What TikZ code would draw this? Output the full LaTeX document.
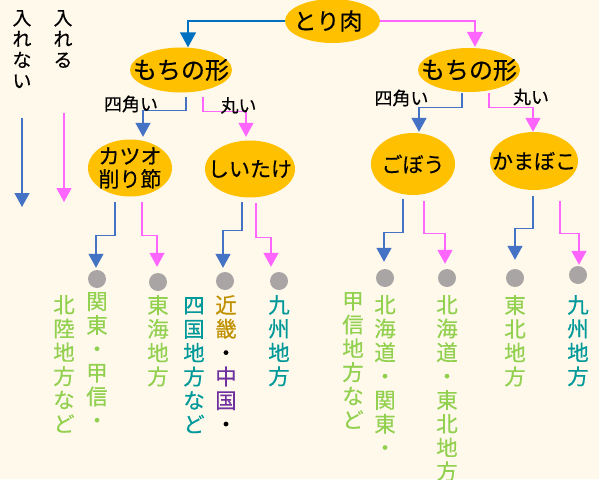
\documentclass[tikz,border=0pt]{standalone}
\usepackage{fontspec}
\setmainfont{Noto Sans CJK JP}[FakeBold=0.35]
\usetikzlibrary{shapes.geometric,arrows.meta,calc}
\definecolor{bg}{HTML}{FFF9EC}
\definecolor{ell}{HTML}{FFC000}
\definecolor{blueT}{HTML}{0070C0}
\definecolor{blueL}{HTML}{4472C4}
\definecolor{pinkL}{HTML}{FF66FF}
\definecolor{dotgrey}{HTML}{A9A5A5}
\definecolor{greenT}{HTML}{92D050}
\definecolor{tealT}{HTML}{009999}
\definecolor{goldT}{HTML}{BF9000}
\definecolor{purpleT}{HTML}{7030A0}
\tikzset{
  blob/.style={ellipse, fill=ell, inner sep=0pt},
  btxt/.style={inner sep=0pt, align=center, text=black},
  lbl/.style={inner sep=0pt, text=black, font=\fontsize{18}{20}\selectfont},
  tip/.style={-{Triangle[width=15pt,length=14pt]}},
  conB/.style={draw=blueL, line width=1.4pt, tip},
  conP/.style={draw=pinkL, line width=1.4pt, tip},
  dotc/.style={circle, fill=dotgrey, minimum size=18pt, inner sep=0pt},
  vtxt/.style={anchor=north, inner sep=0pt, align=center, font=\fontsize{21.5}{23.8}\selectfont},
  legtxt/.style={anchor=north, inner sep=0pt, align=center, text=black, font=\fontsize{19}{21}\selectfont},
}
\begin{document}
\begin{tikzpicture}[x=1pt,y=-1pt]
\fill[bg] (0,0) rectangle (599,479);
\useasboundingbox (0,0) rectangle (599,479);

% legend
\node[legtxt] (legno) at (22,10) {入\\れ\\な\\い};
\node[legtxt] (legyes) at (63,10) {入\\れ\\る};
\coordinate (lbA) at (22,118);
\coordinate (lbB) at (22,207);
\coordinate (lpA) at (64,113);
\coordinate (lpB) at (64,202);
\draw[conB] (lbA) -- (lbB);
\draw[conP] (lpA) -- (lpB);

% ellipses
\node[blob, minimum width=95pt, minimum height=44pt] (tori) at (332.5,21) {};
\node[btxt, font=\fontsize{23}{25}\selectfont] (toriT) at (328,21) {とり肉};
\node[blob, minimum width=102pt, minimum height=45pt] (mochiL) at (181,70) {};
\node[btxt, font=\fontsize{24}{26}\selectfont] (mochiLT) at (mochiL) {もちの形};
\node[blob, minimum width=102pt, minimum height=44pt] (mochiR) at (469,70) {};
\node[btxt, font=\fontsize{24}{26}\selectfont] (mochiRT) at (mochiR) {もちの形};
\node[blob, minimum width=84pt, minimum height=57pt] (katsuo) at (130,168) {};
\node[btxt, font=\fontsize{21}{23}\selectfont] (katsuoT) at (katsuo) {カツオ\\削り節};
\node[blob, minimum width=90pt, minimum height=57pt] (shiitake) at (250,169) {};
\node[btxt, font=\fontsize{21}{23}\selectfont] (shiitakeT) at (shiitake) {しいたけ};
\node[blob, minimum width=84pt, minimum height=62pt] (gobou) at (413,164) {};
\node[btxt, font=\fontsize{21}{23}\selectfont] (gobouT) at (gobou) {ごぼう};
\node[blob, minimum width=88pt, minimum height=58pt] (kama) at (534,161) {};
\node[btxt, font=\fontsize{21}{23}\selectfont] (kamaT) at (kama) {かまぼこ};

% dots
\node[dotc] (d1) at (97,279) {};
\node[dotc] (d2) at (158,282) {};
\node[dotc] (d3) at (225,281) {};
\node[dotc] (d4) at (279,281) {};
\node[dotc] (d5) at (385,278) {};
\node[dotc] (d6) at (447,278) {};
\node[dotc] (d7) at (515,278) {};
\node[dotc] (d8) at (578,275) {};

% top connectors
\draw[draw=blueT, line width=1.4pt, -{Triangle[width=16pt,length=15pt]}] (tori.west) -| ($(mochiL.north)+(7,0)$);
\draw[draw=pinkL, line width=1.4pt, -{Triangle[width=16pt,length=15pt]}] (tori.east) -| ($(mochiR.north)+(6,-1)$);

% second level
\draw[conB] ($(mochiL.south)+(5,4.5)$) -- ++(0,13) -| ($(katsuo.north)+(13,-2.5)$);
\draw[conP] ($(mochiL.south)+(22,4.5)$) -- ++(0,14) -| ($(shiitake.north)+(-4,-3.5)$);
\draw[conB] ($(mochiR.south)+(-7,1)$) -- ++(0,14) -| ($(gobou.north)+(6,-1)$);
\draw[conP] ($(mochiR.south)+(20,1)$) -- ++(0,14) -| ($(kama.north)+(-1,0)$);

\node[lbl] (sq1) at (131,104) {四角い};
\node[lbl] (mr1) at (238.5,105.5) {丸い};
\node[lbl] (sq2) at (401.5,98) {四角い};
\node[lbl] (mr2) at (531,97) {丸い};

% third level
\draw[conB] ($(katsuo.south)+(-15,5.5)$) -- ++(0,33) -| ($(d1.north)+(-1,-2)$);
\draw[conP] ($(katsuo.south)+(12,5.5)$) -- ++(0,33) -| ($(d2.north)+(-1,-6)$);
\draw[conB] ($(shiitake.south)+(-8,4.5)$) -- ++(0,28) -| ($(d3.north)+(-2,-4)$);
\draw[conP] ($(shiitake.south)+(6,5.5)$) -- ++(0,34) -| ($(d4.north)+(-8,-5)$);
\draw[conB] ($(gobou.south)+(-10,4)$) -- ++(0,33) -| ($(d5.north)+(-1,-7)$);
\draw[conP] ($(gobou.south)+(11,6)$) -- ++(0,32) -| ($(d6.north)+(-2,-5)$);
\draw[conB] ($(kama.south)+(-1,6)$) -- ++(0,32) -| ($(d7.north)+(0,-9)$);
\draw[conP] ($(kama.south)+(26,11)$) -- ++(0,32) -| ($(d8.north)+(1,-1)$);

% region texts
\node[vtxt, text=greenT] (t1) at (97,292) {関\\東\\・\\甲\\信\\・};
\node[vtxt, text=greenT] (t1b) at (64,295) {北\\陸\\地\\方\\な\\ど};
\node[vtxt, text=greenT] (t2) at (158,295) {東\\海\\地\\方};
\node[vtxt, text=tealT] (t3b) at (194,297) {四\\国\\地\\方\\な\\ど};
\node[vtxt] (t3) at (226,295) {\textcolor{goldT}{近}\\\textcolor{goldT}{畿}\\\textcolor{black}{・}\\\textcolor{purpleT}{中}\\\textcolor{purpleT}{国}\\\textcolor{black}{・}};
\node[vtxt, text=tealT] (t4) at (279,295) {九\\州\\地\\方};
\node[vtxt, text=greenT] (t5) at (385,295) {北\\海\\道\\・\\関\\東\\・};
\node[vtxt, text=greenT] (t5b) at (353,292) {甲\\信\\地\\方\\な\\ど};
\node[vtxt, text=greenT] (t6) at (447,295) {北\\海\\道\\・\\東\\北\\地\\方};
\node[vtxt, text=greenT] (t7) at (515,295) {東\\北\\地\\方};
\node[vtxt, text=tealT] (t8) at (578,295) {九\\州\\地\\方};
\end{tikzpicture}
\end{document}
